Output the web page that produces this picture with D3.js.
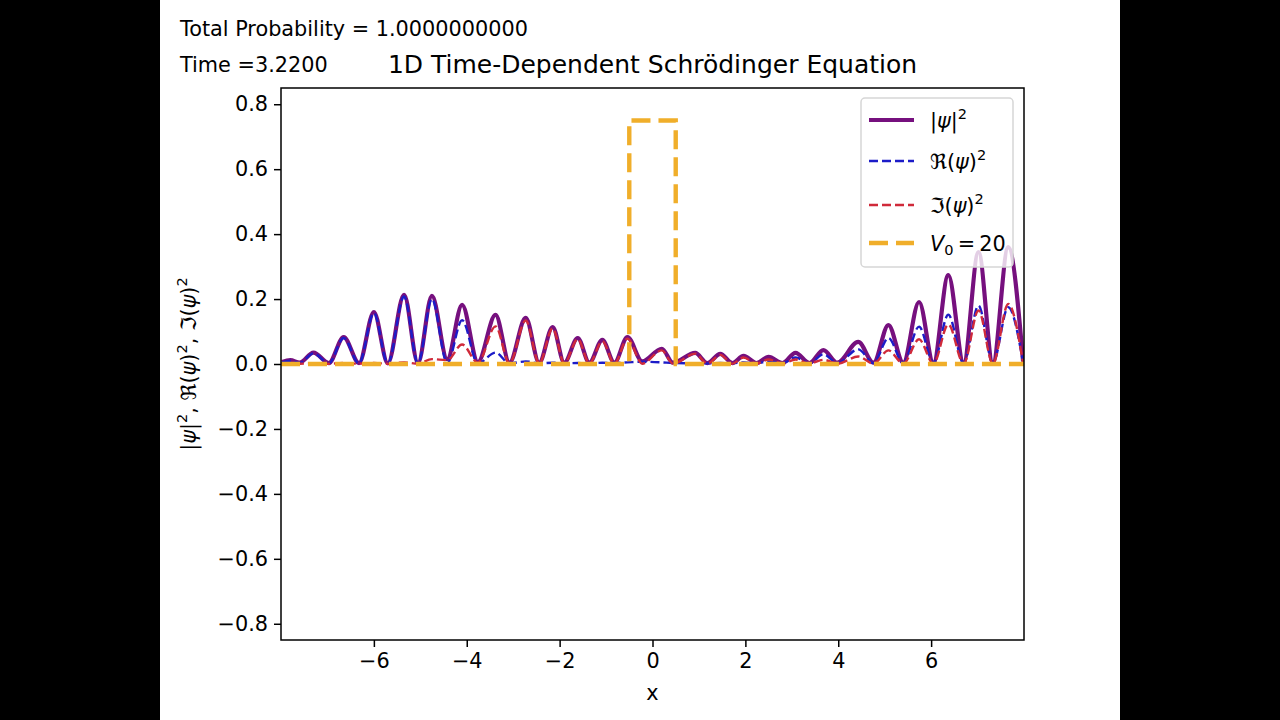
<!DOCTYPE html>
<html>
<head>
<meta charset="utf-8">
<script src="https://cdn.jsdelivr.net/npm/d3@7"></script>
<style>
  body { margin: 0; background: #000; }
  svg { display: block; font-family: "DejaVu Sans", sans-serif; }
</style>
</head>
<body>
<div class="chart"></div>
<script>
const xPts = [-7.98, -7.8, -7.6, -7.3, -6.97, -6.65, -6.32, -6.0, -5.7, -5.35, -5.05, -4.75, -4.42, -4.1, -3.76,
  -3.38, -3.08, -2.73, -2.44, -2.15, -1.9, -1.61, -1.36, -1.08, -0.82, -0.54, -0.22, 0.2, 0.44, 0.92, 1.18,
  1.46, 1.72, 1.96, 2.24, 2.5, 2.8, 3.08, 3.38, 3.68, 3.98, 4.43, 4.76, 5.08, 5.4, 5.74, 6.05, 6.37, 6.7,
  7.02, 7.33, 7.66, 7.98];
const probVals = [0.006, 0.012, 0.004, 0.035, 0.003, 0.083, 0.003, 0.16, 0.002, 0.213, 0.003, 0.21, 0.015, 0.182, 0.006,
  0.151, 0.004, 0.142, 0.004, 0.114, 0.004, 0.08, 0.004, 0.074, 0.004, 0.083, 0.008, 0.047, 0.004, 0.034, 0.003,
  0.031, 0.003, 0.025, 0.003, 0.022, 0.003, 0.034, 0.003, 0.043, 0.004, 0.068, 0.004, 0.12, 0.004, 0.191, 0.004, 0.274, 0.004,
  0.345, 0.004, 0.36, 0.008];
const reVals = [0.005, 0.01, 0.003, 0.033, 0.002, 0.08, 0.002, 0.157, 0.001, 0.208, 0.002, 0.2, 0.002, 0.135, 0.002,
  0.035, 0.002, 0.008, 0.002, 0.004, 0.002, 0.003, 0.002, 0.004, 0.003, 0.005, 0.007, 0.005, 0.003, 0.002, 0.002,
  0.003, 0.002, 0.005, 0.002, 0.008, 0.002, 0.02, 0.002, 0.03, 0.003, 0.045, 0.003, 0.08, 0.003, 0.115, 0.003, 0.152, 0.003,
  0.18, 0.003, 0.175, 0.005];
const imVals = [0.001, 0.002, 0.001, 0.002, 0.001, 0.003, 0.001, 0.003, 0.001, 0.005, 0.001, 0.015, 0.012, 0.06, 0.004,
  0.116, 0.002, 0.134, 0.002, 0.11, 0.002, 0.077, 0.002, 0.07, 0.001, 0.078, 0.001, 0.042, 0.001, 0.032, 0.001,
  0.028, 0.001, 0.02, 0.001, 0.014, 0.001, 0.014, 0.001, 0.013, 0.001, 0.023, 0.001, 0.042, 0.001, 0.076, 0.001, 0.122, 0.001,
  0.165, 0.001, 0.185, 0.003];

// square barrier, drawn scaled (V0 = 20)
const barrierX = [-8, -0.5, -0.5, 0.5, 0.5, 8];
const barrierY = [0, 0, 0.75, 0.75, 0, 0];

const xTicks = [-6, -4, -2, 0, 2, 4, 6];
const yTicks = [-0.8, -0.6, -0.4, -0.2, 0.0, 0.2, 0.4, 0.6, 0.8];

const width = 1280, height = 720;
const mLeft = 281, mRight = 1024, mTop = 88, mBottom = 640;

const svg = d3.select('.chart')
  .append('svg')
  .attr('width', width)
  .attr('height', height);

// black video bars, white figure in between
svg.append('rect').attr('x', 0).attr('y', 0).attr('width', width).attr('height', height).attr('fill', '#000');
svg.append('rect').attr('x', 160).attr('y', 0).attr('width', 960).attr('height', height).attr('fill', '#fff');

const x = d3.scaleLinear().domain([-8, 8]).range([mLeft, mRight]);
const y = d3.scaleLinear().domain([-0.85, 0.85]).range([mBottom, mTop]);

const fs = 20.8;

// axes
const xAxis = svg.append('g')
  .attr('transform', `translate(0,${mBottom})`)
  .call(d3.axisBottom(x).tickValues(xTicks).tickSize(7).tickPadding(6)
    .tickFormat(d => d < 0 ? '\u2212' + Math.abs(d) : d));
const yAxis = svg.append('g')
  .attr('transform', `translate(${mLeft},0)`)
  .call(d3.axisLeft(y).tickValues(yTicks).tickSize(7).tickPadding(6)
    .tickFormat(d => (d < 0 ? '\u2212' : '') + Math.abs(d).toFixed(1)));

[xAxis, yAxis].forEach(a => {
  a.select('.domain').remove();
  a.selectAll('line').attr('stroke', '#000').attr('stroke-width', 1.5);
  a.selectAll('text').attr('font-size', fs).attr('fill', '#000')
    .attr('font-family', '"DejaVu Sans", sans-serif');
});

// clip for curves
svg.append('clipPath').attr('id', 'clip')
  .append('rect').attr('x', mLeft).attr('y', mTop).attr('width', mRight - mLeft).attr('height', mBottom - mTop);

const plot = svg.append('g').attr('clip-path', 'url(#clip)');

const line = d3.line()
  .x(d => x(d[0]))
  .y(d => y(d[1]))
  .curve(d3.curveMonotoneX);

plot.append('path')
  .datum(d3.zip(xPts, probVals))
  .attr('d', line)
  .attr('fill', 'none')
  .attr('stroke', '#76107e')
  .attr('stroke-width', 4.2);

plot.append('path')
  .datum(d3.zip(xPts, reVals))
  .attr('d', line)
  .attr('fill', 'none')
  .attr('stroke', '#1c1cc8')
  .attr('stroke-width', 2.4)
  .attr('stroke-dasharray', '9,4');

plot.append('path')
  .datum(d3.zip(xPts, imVals))
  .attr('d', line)
  .attr('fill', 'none')
  .attr('stroke', '#d02a3a')
  .attr('stroke-width', 2.4)
  .attr('stroke-dasharray', '9,4');

const stepLine = d3.line()
  .x(d => x(d[0]))
  .y(d => y(d[1]));

plot.append('path')
  .datum(d3.zip(barrierX, barrierY))
  .attr('d', stepLine)
  .attr('fill', 'none')
  .attr('stroke', '#f0ae2a')
  .attr('stroke-width', 4.4)
  .attr('stroke-dasharray', '19,8');

// frame
svg.append('rect')
  .attr('x', mLeft).attr('y', mTop)
  .attr('width', mRight - mLeft).attr('height', mBottom - mTop)
  .attr('fill', 'none').attr('stroke', '#000').attr('stroke-width', 1.5);

// legend
const lg = svg.append('g');
lg.append('rect')
  .attr('x', 861).attr('y', 98).attr('width', 152).attr('height', 169)
  .attr('rx', 4)
  .attr('fill', 'rgba(255,255,255,0.8)')
  .attr('stroke', '#d6d6d6').attr('stroke-width', 1.5);

const legendItems = [
  {color: '#76107e', w: 4.2, dash: null, y: 120},
  {color: '#1c1cc8', w: 2.4, dash: '9,4', y: 161},
  {color: '#d02a3a', w: 2.4, dash: '9,4', y: 205},
  {color: '#f0ae2a', w: 4.4, dash: '19,8', y: 243}
];
legendItems.forEach(it => {
  lg.append('line')
    .attr('x1', 869).attr('x2', 914).attr('y1', it.y).attr('y2', it.y)
    .attr('stroke', it.color).attr('stroke-width', it.w)
    .attr('stroke-dasharray', it.dash);
});

// mathtext-like label: italic, superscript and subscript pieces via dy shifts
function mathLabel(g, xx, yy, parts) {
  const t = g.append('text').attr('x', xx).attr('y', yy).attr('font-size', fs).attr('fill', '#000');
  let shift = 0;
  parts.forEach(p => {
    const s = t.append('tspan').text(p.t);
    let target = 0;
    if (p.sup) target = -0.45 * fs;
    if (p.sub) target = 0.2 * fs;
    if (target !== shift) { s.attr('dy', target - shift); shift = target; }
    if (p.i) s.attr('font-style', 'italic');
    if (p.sup || p.sub) s.attr('font-size', fs * 0.7);
  });
  return t;
}

mathLabel(lg, 930, 128, [{t: '|'}, {t: 'ψ', i: true}, {t: '|'}, {t: '2', sup: true}]);
mathLabel(lg, 930, 169, [{t: 'ℜ('}, {t: 'ψ', i: true}, {t: ')'}, {t: '2', sup: true}]);
mathLabel(lg, 930, 213, [{t: 'ℑ('}, {t: 'ψ', i: true}, {t: ')'}, {t: '2', sup: true}]);
mathLabel(lg, 930, 251, [{t: 'V', i: true}, {t: '0', sub: true}, {t: '\u2009=\u200920'}]);

// axis labels
svg.append('text')
  .attr('x', (mLeft + mRight) / 2).attr('y', 700)
  .attr('text-anchor', 'middle').attr('font-size', fs)
  .text('x');

const yl = svg.append('g').attr('transform', 'translate(196,364) rotate(-90)');
mathLabel(yl, 0, 0, [
  {t: '|'}, {t: 'ψ', i: true}, {t: '|'}, {t: '2', sup: true},
  {t: ', ℜ('}, {t: 'ψ', i: true}, {t: ')'}, {t: '2', sup: true},
  {t: ', ℑ('}, {t: 'ψ', i: true}, {t: ')'}, {t: '2', sup: true}
]).attr('text-anchor', 'middle');

// title and figure texts
svg.append('text')
  .attr('x', (mLeft + mRight) / 2).attr('y', 73)
  .attr('text-anchor', 'middle').attr('font-size', 25)
  .text('1D Time-Dependent Schrödinger Equation');

svg.append('text')
  .attr('x', 180).attr('y', 36).attr('font-size', fs)
  .text('Total Probability = 1.0000000000');

svg.append('text')
  .attr('x', 180).attr('y', 72).attr('font-size', fs)
  .text('Time =3.2200');
</script>
</body>
</html>
